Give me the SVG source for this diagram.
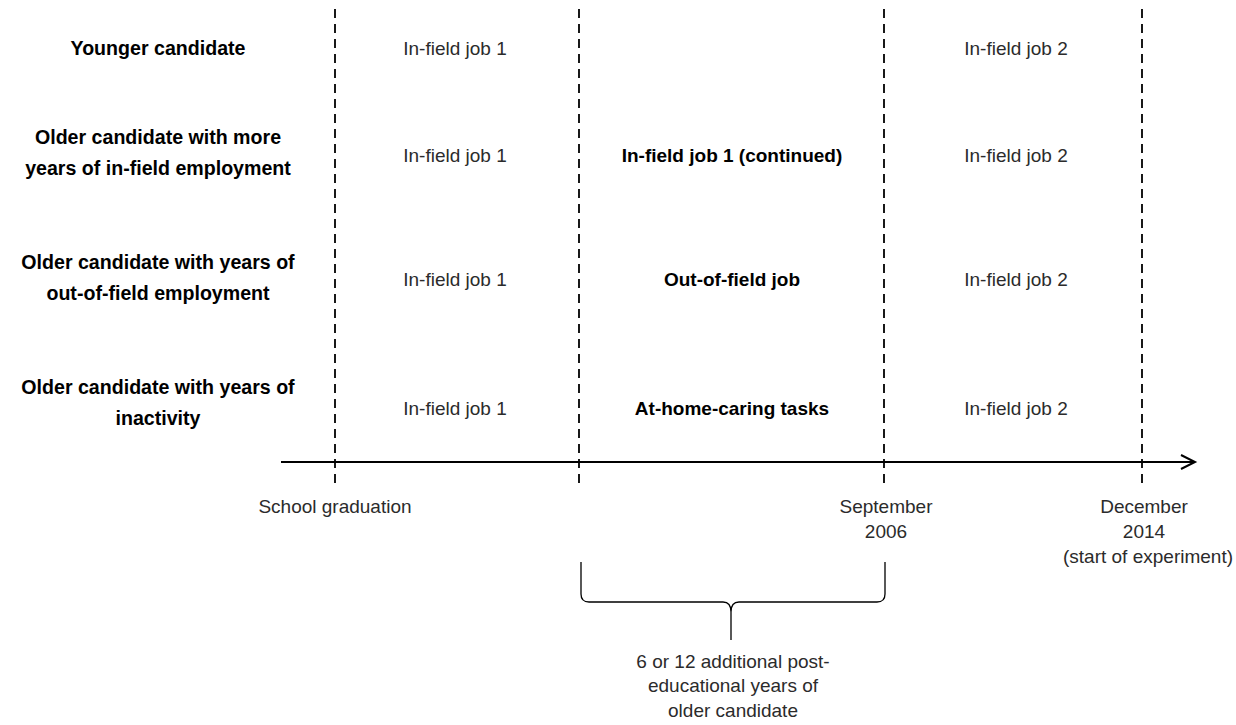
<svg xmlns="http://www.w3.org/2000/svg" width="1236" height="725" viewBox="0 0 1236 725">
<style>
text{font-family:"Liberation Sans",Arial,sans-serif;font-size:19px;text-anchor:middle;fill:#2b2b2b}
.b{font-weight:bold;fill:#000}
.lbl{font-size:19.6px}
.dash{stroke:#000;stroke-width:1.8;stroke-dasharray:9,6;fill:none}
</style>
<defs>
<marker id="arr" markerWidth="20" markerHeight="20" refX="15" refY="8" orient="auto" markerUnits="userSpaceOnUse">
<path d="M1,1 L15,8 L1,15" fill="none" stroke="#000" stroke-width="2"/>
</marker>
</defs>
<rect width="1236" height="725" fill="#fff"/>
<g id="connectors">
<line class="dash" x1="335" y1="9" x2="335" y2="486"/>
<line class="dash" x1="579" y1="9" x2="579" y2="486"/>
<line class="dash" x1="884" y1="9" x2="884" y2="486"/>
<line class="dash" x1="1142" y1="9" x2="1142" y2="486"/>
<line x1="281" y1="462" x2="1195" y2="462" stroke="#000" stroke-width="2" marker-end="url(#arr)"/>
<path d="M581,562 L581,594 Q581,602 589,602 L723,602 Q731,602 731,612 L731,640 M731,612 Q731,602 739,602 L877,602 Q885,602 885,594 L885,562" fill="none" stroke="#000" stroke-width="1.3"/>
</g>
<g id="row1">
<text class="b lbl" x="158" y="55">Younger candidate</text>
<text x="455" y="55">In-field job 1</text>
<text x="1016" y="55">In-field job 2</text>
</g>
<g id="row2">
<text class="b lbl" x="158" y="144">Older candidate with more</text>
<text class="b lbl" x="158" y="175">years of in-field employment</text>
<text x="455" y="162">In-field job 1</text>
<text class="b" x="732" y="162">In-field job 1 (continued)</text>
<text x="1016" y="162">In-field job 2</text>
</g>
<g id="row3">
<text class="b lbl" x="158" y="269">Older candidate with years of</text>
<text class="b lbl" x="158" y="300">out-of-field employment</text>
<text x="455" y="286">In-field job 1</text>
<text class="b" x="732" y="286">Out-of-field job</text>
<text x="1016" y="286">In-field job 2</text>
</g>
<g id="row4">
<text class="b lbl" x="158" y="394">Older candidate with years of</text>
<text class="b lbl" x="158" y="425">inactivity</text>
<text x="455" y="415">In-field job 1</text>
<text class="b" x="732" y="415">At-home-caring tasks</text>
<text x="1016" y="415">In-field job 2</text>
</g>
<g id="labels">
<text x="335" y="513">School graduation</text>
<text x="886" y="513">September</text>
<text x="886" y="538">2006</text>
<text x="1144" y="513">December</text>
<text x="1144" y="538">2014</text>
<text x="1148" y="563">(start of experiment)</text>
<text x="733" y="668">6 or 12 additional post-</text>
<text x="733" y="692">educational years of</text>
<text x="733" y="717">older candidate</text>
</g>
</svg>
